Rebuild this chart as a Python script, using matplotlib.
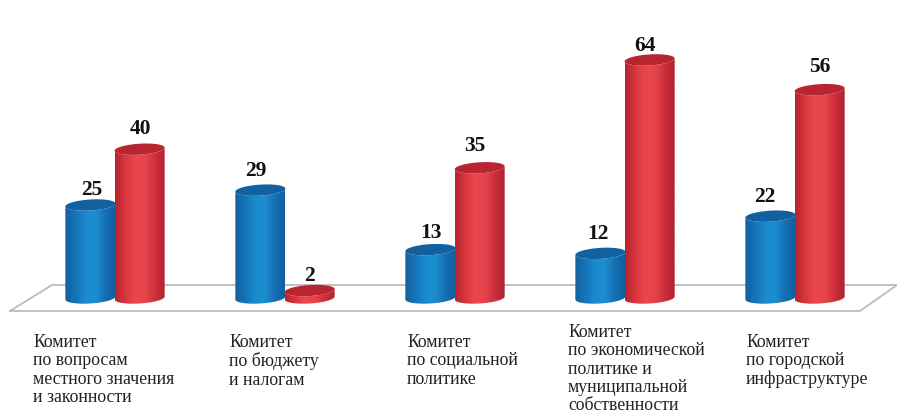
import matplotlib
matplotlib.use('Agg')
import matplotlib.pyplot as plt, numpy as np
from matplotlib.patches import Polygon
from matplotlib.colors import LinearSegmentedColormap

committees = ['Комитет\nпо вопросам\nместного значения\nи законности',
              'Комитет\nпо бюджету\nи налогам',
              'Комитет\nпо социальной\nполитике',
              'Комитет\nпо экономической\nполитике и\nмуниципальной\nсобственности',
              'Комитет\nпо городской\nинфраструктуре']
blue_vals = [25, 29, 13, 12, 22]
red_vals = [40, 2, 35, 64, 56]

# label placement in pixels
label_x = [33, 229, 407, 568, 746]
label_y = [334, 334, 334, 324, 334]
blue_nudge = [(1, 5), (-5, 1), (1, 3), (-2, 0), (-6, 1)]
red_nudge = [(1, -1), (0, 5), (-5, -2), (-5, 6), (0, -3)]

W, H = 897, 411
PX_X = 170.0   # pixels per category
PX_Y = 3.72    # pixels per unit
X0, Y0 = 115, 298

blue_cm = LinearSegmentedColormap.from_list('b', ['#14609f', '#1474b8', '#1a8acb', '#1c8ecf', '#1570b4', '#10609f'])
red_cm = LinearSegmentedColormap.from_list('r', ['#b5252f', '#d9363f', '#e9474f', '#e5444c', '#cf2f3a', '#ad2230'])

fig = plt.figure(figsize=(W / 100, H / 100), dpi=100)
ax = fig.add_axes([0, 0, 1, 1])
ax.axis('off')

def px(x, y):
    return (x - X0) / PX_X, (Y0 - y) / PX_Y

# floor
floor = np.array([px(10, 311), px(860, 311), px(897, 285), px(52, 285), px(10, 311)])
ax.plot(floor[:, 0], floor[:, 1], color='#bcbcbc', lw=1.3, zorder=1)

bar_w = 50 / PX_X
ell_b = 5.5 / PX_Y
tilt = 1.5 / PX_Y

def rim(xc, val, t):
    # tilted ellipse, right side a little higher than the left
    return xc + bar_w / 2 * np.cos(t), val + ell_b * np.sin(t) + tilt * np.cos(t)

def cylinder(xc, val, cmap, top_col, z):
    low = np.linspace(np.pi, 2 * np.pi, 40)
    x1, y1 = rim(xc, 0, low)
    x2, y2 = rim(xc, val, low[::-1])
    clip = Polygon(np.column_stack([np.r_[x1, x2], np.r_[y1, y2]]), transform=ax.transData, fc='none', ec='none')
    ax.add_patch(clip)
    grad = np.linspace(0, 1, 64).reshape(1, -1)
    im = ax.imshow(grad, cmap=cmap, extent=(xc - bar_w / 2, xc + bar_w / 2, -ell_b - tilt, val + tilt),
                   aspect='auto', zorder=z, interpolation='bilinear')
    im.set_clip_path(clip)
    tx, ty = rim(xc, val, np.linspace(0, 2 * np.pi, 80))
    ax.add_patch(Polygon(np.column_stack([tx, ty]), fc=top_col, ec='none', zorder=z + 0.1))

def value_label(xc, val, nudge):
    ax.text(xc + nudge[0] / PX_X, val + 2.6 - nudge[1] / PX_Y, str(val), ha='center', va='bottom',
            family='Liberation Serif', weight='bold', fontsize=15.5, color='#111111', zorder=5)

for i in range(len(committees)):
    cylinder(i - 0.145, blue_vals[i], blue_cm, '#11609f', 2)
    cylinder(i + 0.145, red_vals[i], red_cm, '#b8242f', 3)
    value_label(i - 0.145, blue_vals[i], blue_nudge[i])
    value_label(i + 0.145, red_vals[i], red_nudge[i])
    lx, ly = px(label_x[i], label_y[i])
    ax.text(lx, ly, committees[i], ha='left', va='top', family='Liberation Serif',
            fontsize=12.8, color='#222222', linespacing=1.1)

ax.set_xlim(-X0 / PX_X, (W - X0) / PX_X)
ax.set_ylim(-(H - Y0) / PX_Y, Y0 / PX_Y)
fig.savefig('out.png', dpi=100)
